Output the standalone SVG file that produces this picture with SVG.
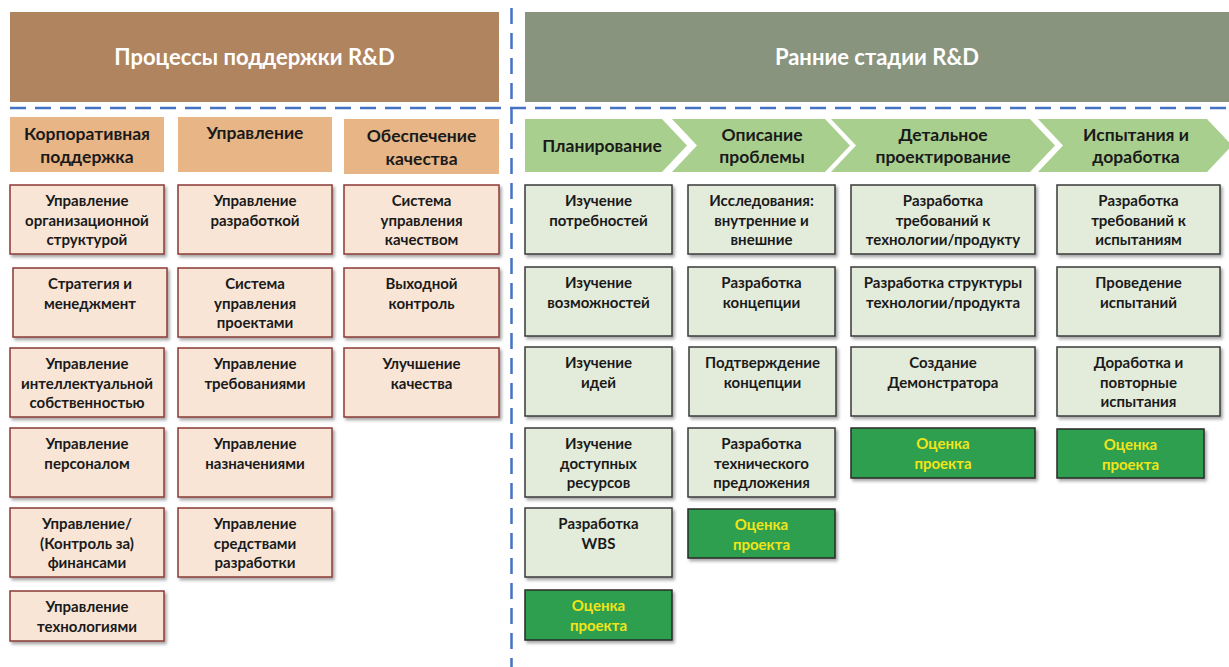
<svg xmlns="http://www.w3.org/2000/svg" width="1229" height="667" viewBox="0 0 1229 667">
<defs>
<filter id="sh" x="-10%" y="-10%" width="130%" height="130%">
<feDropShadow dx="2" dy="2.5" stdDeviation="1.5" flood-color="#000" flood-opacity="0.35"/>
</filter>
<style>
.pb{fill:#F8E5D6;stroke:#8B3A36;stroke-width:1.5;filter:url(#sh)}
.gb{fill:#E3EBDA;stroke:#3A3A3A;stroke-width:1.5;filter:url(#sh)}
.ob{fill:#2F9F50;stroke:#2A2A2A;stroke-width:1.5;filter:url(#sh)}
.sub{fill:#E7B586}
.chev{fill:#A9CF8E}
text{font-family:Lato,"Open Sans","Noto Sans",sans-serif;font-weight:700;text-anchor:middle;fill:#1a1a1a}
.t{font-size:15px}
.ty{font-size:15px;fill:#F2E41A}
.h2{font-size:17.5px}
.h1{font-size:22px;fill:#fff;font-weight:700}
.dash{stroke:#4472C4;stroke-width:2.5;stroke-dasharray:16 9;fill:none}
</style>
</defs>
<rect width="1229" height="667" fill="#fff"/>

<g id="header-support">
<rect x="10" y="12" width="489" height="90" fill="#B0845F"/>
<text class="h1" x="254.5" y="65">Процессы поддержки R&amp;D</text>
</g>
<g id="header-early">
<rect x="525" y="12" width="710" height="90" fill="#88947E"/>
<text class="h1" x="877" y="65">Ранние стадии R&amp;D</text>
</g>

<g id="dividers">
<line class="dash" x1="10" y1="108" x2="1229" y2="108"/>
<line class="dash" x1="511.5" y1="8" x2="511.5" y2="667"/>
</g>

<g id="sub-corp">
<rect class="sub" x="10" y="117" width="154" height="55"/>
<text class="h2" x="87" y="139.5">Корпоративная</text>
<text class="h2" x="87" y="162.5">поддержка</text>
</g>
<g id="sub-mgmt">
<rect class="sub" x="178" y="117" width="154" height="55"/>
<text class="h2" x="255" y="138.5">Управление</text>
</g>
<g id="sub-quality">
<rect class="sub" x="344" y="119" width="155" height="55"/>
<text class="h2" x="421.5" y="142">Обеспечение</text>
<text class="h2" x="421.5" y="164.5">качества</text>
</g>

<g id="stage-planning">
<path class="chev" d="M525,119 H662 L687,145.5 L662,172 H525 Z"/>
<text class="h2" x="602" y="152">Планирование</text>
</g>
<g id="stage-problem">
<path class="chev" d="M672,119 H825 L850,145.5 L825,172 H672 L697,145.5 Z"/>
<text class="h2" x="762" y="141">Описание</text>
<text class="h2" x="762" y="163">проблемы</text>
</g>
<g id="stage-design">
<path class="chev" d="M831,119 H1030 L1055,145.5 L1030,172 H831 L856,145.5 Z"/>
<text class="h2" x="943" y="141">Детальное</text>
<text class="h2" x="943" y="163">проектирование</text>
</g>
<g id="stage-testing">
<path class="chev" d="M1038,119 H1207 L1232,145.5 L1207,172 H1038 L1063,145.5 Z"/>
<text class="h2" x="1136" y="141">Испытания и</text>
<text class="h2" x="1136" y="163">доработка</text>
</g>

<g id="org-structure"><rect class="pb" x="10" y="185" width="154" height="69"/>
<text class="t" x="87" y="206">Управление</text><text class="t" x="87" y="225.5">организационной</text><text class="t" x="87" y="245">структурой</text></g>
<g id="strategy"><rect class="pb" x="13" y="268" width="154" height="69"/>
<text class="t" x="90" y="289">Стратегия и</text><text class="t" x="90" y="308.5">менеджмент</text></g>
<g id="ip"><rect class="pb" x="10" y="348" width="154" height="69"/>
<text class="t" x="87" y="369">Управление</text><text class="t" x="87" y="388.5">интеллектуальной</text><text class="t" x="87" y="408">собственностью</text></g>
<g id="personnel"><rect class="pb" x="10" y="428" width="154" height="69"/>
<text class="t" x="87" y="449">Управление</text><text class="t" x="87" y="468.5">персоналом</text></g>
<g id="finance"><rect class="pb" x="10" y="508" width="154" height="69"/>
<text class="t" x="87" y="529">Управление/</text><text class="t" x="87" y="548.5">(Контроль за)</text><text class="t" x="87" y="568">финансами</text></g>
<g id="technology"><rect class="pb" x="10" y="591" width="154" height="50"/>
<text class="t" x="87" y="612">Управление</text><text class="t" x="87" y="631.5">технологиями</text></g>

<g id="dev-mgmt"><rect class="pb" x="178" y="185" width="154" height="69"/>
<text class="t" x="255" y="206">Управление</text><text class="t" x="255" y="225.5">разработкой</text></g>
<g id="project-system"><rect class="pb" x="178" y="268" width="154" height="69"/>
<text class="t" x="255" y="289">Система</text><text class="t" x="255" y="308.5">управления</text><text class="t" x="255" y="328">проектами</text></g>
<g id="requirements"><rect class="pb" x="178" y="348" width="154" height="69"/>
<text class="t" x="255" y="369">Управление</text><text class="t" x="255" y="388.5">требованиями</text></g>
<g id="assignments"><rect class="pb" x="178" y="428" width="154" height="69"/>
<text class="t" x="255" y="449">Управление</text><text class="t" x="255" y="468.5">назначениями</text></g>
<g id="dev-tools"><rect class="pb" x="178" y="508" width="154" height="69"/>
<text class="t" x="255" y="529">Управление</text><text class="t" x="255" y="548.5">средствами</text><text class="t" x="255" y="568">разработки</text></g>

<g id="qms"><rect class="pb" x="344" y="185" width="155" height="69"/>
<text class="t" x="421.5" y="206">Система</text><text class="t" x="421.5" y="225.5">управления</text><text class="t" x="421.5" y="245">качеством</text></g>
<g id="output-control"><rect class="pb" x="344" y="268" width="155" height="69"/>
<text class="t" x="421.5" y="289">Выходной</text><text class="t" x="421.5" y="308.5">контроль</text></g>
<g id="quality-improve"><rect class="pb" x="344" y="348" width="155" height="69"/>
<text class="t" x="421.5" y="369">Улучшение</text><text class="t" x="421.5" y="388.5">качества</text></g>

<g id="needs"><rect class="gb" x="525" y="185" width="147" height="69"/>
<text class="t" x="598.5" y="206">Изучение</text><text class="t" x="598.5" y="225.5">потребностей</text></g>
<g id="capabilities"><rect class="gb" x="525" y="267" width="147" height="69"/>
<text class="t" x="598.5" y="288">Изучение</text><text class="t" x="598.5" y="307.5">возможностей</text></g>
<g id="ideas"><rect class="gb" x="525" y="347" width="147" height="69"/>
<text class="t" x="598.5" y="368">Изучение</text><text class="t" x="598.5" y="387.5">идей</text></g>
<g id="resources"><rect class="gb" x="525" y="428" width="147" height="69"/>
<text class="t" x="598.5" y="449">Изучение</text><text class="t" x="598.5" y="468.5">доступных</text><text class="t" x="598.5" y="488">ресурсов</text></g>
<g id="wbs"><rect class="gb" x="525" y="508" width="147" height="69"/>
<text class="t" x="598.5" y="529">Разработка</text><text class="t" x="598.5" y="548.5">WBS</text></g>
<g id="eval-a"><rect class="ob" x="525" y="590" width="147" height="50"/>
<text class="ty" x="598.5" y="611">Оценка</text><text class="ty" x="598.5" y="631">проекта</text></g>

<g id="research"><rect class="gb" x="688" y="185" width="147" height="69"/>
<text class="t" x="761.5" y="206">Исследования:</text><text class="t" x="761.5" y="225.5">внутренние и</text><text class="t" x="761.5" y="245">внешние</text></g>
<g id="concept"><rect class="gb" x="688" y="267" width="147" height="69"/>
<text class="t" x="761.5" y="288">Разработка</text><text class="t" x="761.5" y="307.5">концепции</text></g>
<g id="concept-proof"><rect class="gb" x="689" y="347" width="147" height="69"/>
<text class="t" x="762.5" y="368">Подтверждение</text><text class="t" x="762.5" y="387.5">концепции</text></g>
<g id="tech-proposal"><rect class="gb" x="688" y="428" width="147" height="69"/>
<text class="t" x="761.5" y="449">Разработка</text><text class="t" x="761.5" y="468.5">технического</text><text class="t" x="761.5" y="488">предложения</text></g>
<g id="eval-b"><rect class="ob" x="688" y="509" width="147" height="49"/>
<text class="ty" x="761.5" y="530">Оценка</text><text class="ty" x="761.5" y="550">проекта</text></g>

<g id="tech-req"><rect class="gb" x="851" y="185" width="184" height="69"/>
<text class="t" x="943" y="206">Разработка</text><text class="t" x="943" y="225.5">требований к</text><text class="t" x="943" y="245">технологии/продукту</text></g>
<g id="tech-structure"><rect class="gb" x="851" y="267" width="184" height="69"/>
<text class="t" x="943" y="288">Разработка структуры</text><text class="t" x="943" y="307.5">технологии/продукта</text></g>
<g id="demonstrator"><rect class="gb" x="851" y="347" width="184" height="69"/>
<text class="t" x="943" y="368">Создание</text><text class="t" x="943" y="387.5">Демонстратора</text></g>
<g id="eval-c"><rect class="ob" x="851" y="428" width="184" height="50"/>
<text class="ty" x="943" y="449">Оценка</text><text class="ty" x="943" y="469">проекта</text></g>

<g id="test-req"><rect class="gb" x="1057" y="185" width="163" height="69"/>
<text class="t" x="1138.5" y="206">Разработка</text><text class="t" x="1138.5" y="225.5">требований к</text><text class="t" x="1138.5" y="245">испытаниям</text></g>
<g id="testing"><rect class="gb" x="1057" y="267" width="163" height="69"/>
<text class="t" x="1138.5" y="288">Проведение</text><text class="t" x="1138.5" y="307.5">испытаний</text></g>
<g id="retesting"><rect class="gb" x="1057" y="347" width="163" height="69"/>
<text class="t" x="1138.5" y="368">Доработка и</text><text class="t" x="1138.5" y="387.5">повторные</text><text class="t" x="1138.5" y="407">испытания</text></g>
<g id="eval-d"><rect class="ob" x="1057" y="429" width="147" height="49"/>
<text class="ty" x="1130.5" y="450">Оценка</text><text class="ty" x="1130.5" y="470">проекта</text></g>
</svg>
